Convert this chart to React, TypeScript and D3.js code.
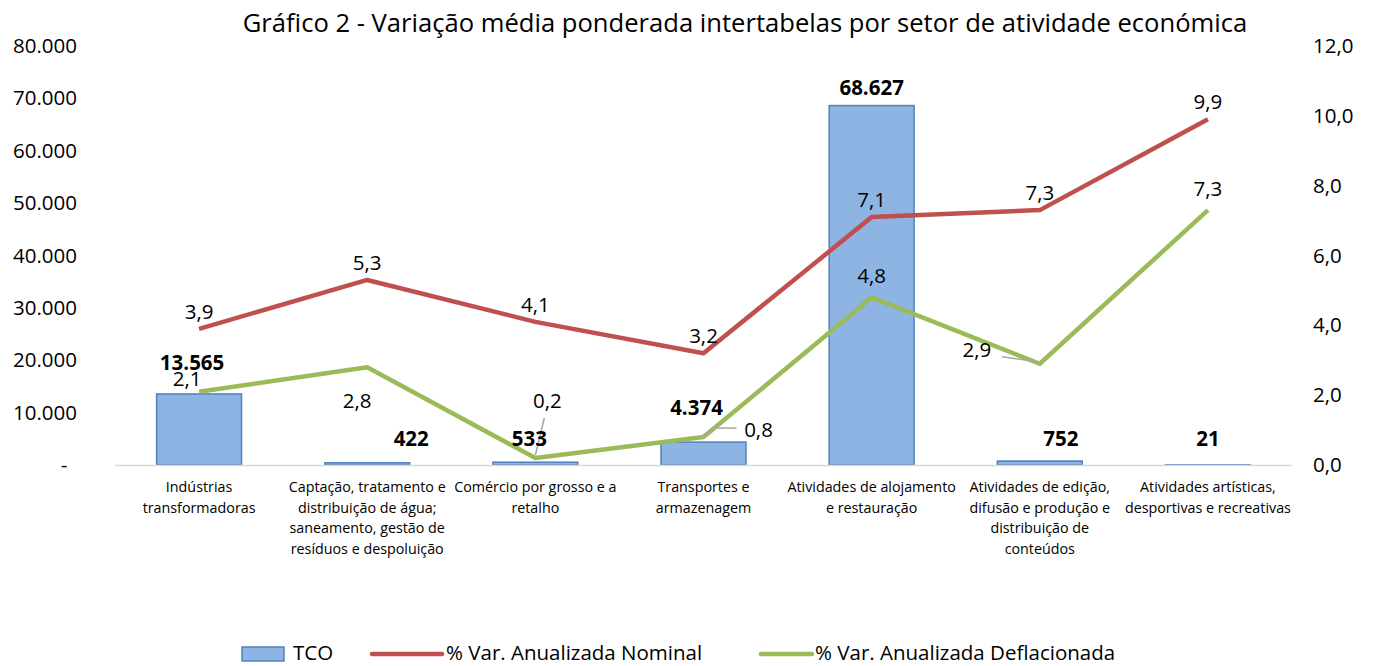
import React from "react";
import * as d3 from "d3";

const categories: string[][] = [
  ["Indústrias", "transformadoras"],
  ["Captação, tratamento e", "distribuição de água;", "saneamento, gestão de", "resíduos e despoluição"],
  ["Comércio por grosso e a", "retalho"],
  ["Transportes e", "armazenagem"],
  ["Atividades de alojamento", "e restauração"],
  ["Atividades de edição,", "difusão e produção e", "distribuição de", "conteúdos"],
  ["Atividades artísticas,", "desportivas e recreativas"],
];
const tco = [13565, 422, 533, 4374, 68627, 752, 21];
const nominal = [3.9, 5.3, 4.1, 3.2, 7.1, 7.3, 9.9];
const deflated = [2.1, 2.8, 0.2, 0.8, 4.8, 2.9, 7.3];
const leftTicks = [0, 10000, 20000, 30000, 40000, 50000, 60000, 70000, 80000];
const rightTicks = [0, 2, 4, 6, 8, 10, 12];

const tcoLabelOff: [number, number][] = [[-7, -100], [44, 0], [-6, 0], [-7, 0], [0, 0], [21, 0], [0, 0]];
const defLabelOff: [number, number][] = [[-12, -6], [-10, 41], [12, -50], [55, 0], [0, -14], [-63, -7], [0, -14]];

const FONT = "'Open Sans', Lato, sans-serif";
const FS = 20.5;

export default function App() {
  const W = 1375, H = 666;
  const left = 115, right = 1292, top = 46, bottom = 465;
  const idx = categories.map((_, i) => String(i));
  const x = d3.scaleBand().domain(idx).range([left, right]);
  const yL = d3.scaleLinear().domain([0, 80000]).range([bottom, top]);
  const yR = d3.scaleLinear().domain([0, 12]).range([bottom, top]);
  const cx = (i: number) => (x(String(i)) as number) + x.bandwidth() / 2;
  const barW = x.bandwidth() * 0.505;
  const line = d3.line<number>().x((_, i) => cx(i)).y((d) => yR(d));
  const fmtL = (v: number) => (v === 0 ? "-" : d3.format(",")(v).replace(/,/g, "."));
  const fmtR = (v: number) => v.toFixed(1).replace(".", ",");

  return (
    <svg width={W} height={H} style={{ position: "absolute", left: 0, top: 0, background: "#fff" }} fontFamily={FONT}>
      <text x={745} y={32} textAnchor="middle" fontSize={25.6} fill="#000">
        Gráfico 2 - Variação média ponderada intertabelas por setor de atividade económica
      </text>
      {leftTicks.map((t) => (
        <text key={"l" + t} x={t === 0 ? 64 : 77} y={yL(t) + 7} textAnchor={t === 0 ? "middle" : "end"} fontSize={FS} fill="#000">
          {fmtL(t)}
        </text>
      ))}
      {rightTicks.map((t) => (
        <text key={"r" + t} x={1313} y={yR(t) + 7} textAnchor="start" fontSize={FS} fill="#000">
          {fmtR(t)}
        </text>
      ))}
      {tco.map((v, i) => (
        <rect key={"b" + i} x={cx(i) - barW / 2} y={yL(v)} width={barW} height={bottom - yL(v)} fill="#8EB4E3" stroke="#4F81BD" strokeWidth={1.5} />
      ))}
      <line x1={left} x2={right} y1={bottom + 0.5} y2={bottom + 0.5} stroke="#D9D9D9" strokeWidth={1.5} />
      <path d={line(nominal) || ""} fill="none" stroke="#C0504D" strokeWidth={4.5} strokeLinejoin="round" />
      <path d={line(deflated) || ""} fill="none" stroke="#9BBB59" strokeWidth={4.5} strokeLinejoin="round" />
      <line x1={cx(2)} y1={yR(deflated[2]) - 3} x2={cx(2) + 9} y2={yR(deflated[2]) - 40} stroke="#A6A6A6" strokeWidth={1.5} />
      <line x1={cx(3)} y1={yR(deflated[3]) - 2} x2={cx(3) + 10} y2={yR(deflated[3]) - 9} stroke="#A6A6A6" strokeWidth={1.5} />
      <line x1={cx(3) + 10} y1={yR(deflated[3]) - 9} x2={cx(3) + 33} y2={yR(deflated[3]) - 9} stroke="#A6A6A6" strokeWidth={1.5} />
      <line x1={cx(5) - 2} y1={yR(deflated[5]) - 2} x2={cx(5) - 38} y2={yR(deflated[5]) - 7} stroke="#A6A6A6" strokeWidth={1.5} />
      {tco.map((v, i) => {
        const [dx, dy] = tcoLabelOff[i];
        const baseY = i === 0 ? yL(v) + 76 : i === 4 ? yL(v) - 11 : i === 3 ? yL(v) - 27 : bottom - 19;
        return (
          <text key={"tl" + i} x={cx(i) + dx} y={baseY + dy} textAnchor="middle" fontSize={FS} fontWeight="bold" fill="#000">
            {fmtL(v)}
          </text>
        );
      })}
      {nominal.map((v, i) => (
        <text key={"nl" + i} x={cx(i)} y={yR(v) - 10} textAnchor="middle" fontSize={FS} fill="#000">
          {fmtR(v)}
        </text>
      ))}
      {deflated.map((v, i) => {
        const [dx, dy] = defLabelOff[i];
        return (
          <text key={"dl" + i} x={cx(i) + dx} y={yR(v) + dy} textAnchor="middle" fontSize={FS} fill="#000">
            {fmtR(v)}
          </text>
        );
      })}
      {categories.map((lines, i) => (
        <text key={"c" + i} x={cx(i)} y={492} textAnchor="middle" fontSize={14.3} fill="#000">
          {lines.map((ln, j) => (
            <tspan key={j} x={cx(i)} dy={j === 0 ? 0 : 20.5}>
              {ln}
            </tspan>
          ))}
        </text>
      ))}
      <rect x={242} y={647} width={42} height={14} fill="#8EB4E3" stroke="#4F81BD" strokeWidth={1.5} />
      <text x={293} y={660} fontSize={20.5} fill="#000">TCO</text>
      <line x1={372} x2={442} y1={654} y2={654} stroke="#C0504D" strokeWidth={4.5} strokeLinecap="round" />
      <text x={446} y={660} fontSize={20.5} fill="#000">% Var. Anualizada Nominal</text>
      <line x1={761} x2={812} y1={654} y2={654} stroke="#9BBB59" strokeWidth={4.5} strokeLinecap="round" />
      <text x={815} y={660} fontSize={20.5} fill="#000">% Var. Anualizada Deflacionada</text>
    </svg>
  );
}
